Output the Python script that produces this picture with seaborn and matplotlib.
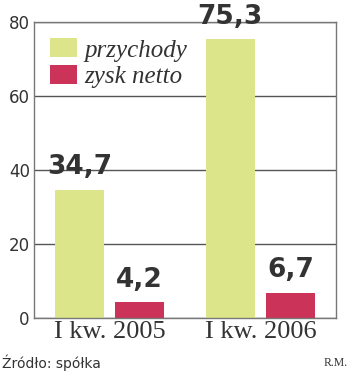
import matplotlib
matplotlib.use("Agg")
import matplotlib.pyplot as plt
import seaborn as sns
import pandas as pd

categories = ["I kw. 2005", "I kw. 2006"]
series = ["przychody", "zysk netto"]
przychody = [34.7, 75.3]
zysk_netto = [4.2, 6.7]
value_labels = [["34,7", "75,3"], ["4,2", "6,7"]]
yticks = [0, 20, 40, 60, 80]

colors = ["#dde58b", "#cc3358"]

df = pd.DataFrame({
    "kategoria": categories * 2,
    "seria": [series[0]] * 2 + [series[1]] * 2,
    "wartosc": przychody + zysk_netto,
})

sns.set_theme(style="white")
plt.rcParams['font.family'] = ['DejaVu Sans']

fig = plt.figure(figsize=(3.5, 3.73), dpi=100)
ax = fig.add_axes([34/350, 1-318/373, (336-34)/350, (318-22)/373])

sns.barplot(data=df, x="kategoria", y="wartosc", hue="seria", order=categories,
            hue_order=series, palette=colors, width=0.8, gap=0.19,
            saturation=1, ax=ax, legend=True, linewidth=0)

ax.set_xlim(-0.5, 1.5)
ax.set_ylim(0, 80)
ax.set_yticks(yticks)
ax.set_yticklabels([str(t) for t in yticks], fontsize=12, color="#333333")
ax.set_xlabel("")
ax.set_ylabel("")
ax.set_xticks(range(len(categories)))
ax.set_xticklabels(categories, fontsize=19, color="#333333",
                   family="Liberation Serif")
ax.tick_params(axis="both", length=0, pad=3)
ax.tick_params(axis="x", pad=2)

ax.set_axisbelow(True)
ax.yaxis.grid(True, color="#555555", linewidth=1.0)
for s in ax.spines.values():
    s.set_color("#777777")
    s.set_linewidth(1.0)

for container, labels in zip(ax.containers, value_labels):
    ax.bar_label(container, labels=labels, padding=7, fontsize=19,
                 fontweight="bold", color="#333333")

leg = ax.legend(loc="upper left", bbox_to_anchor=(0.0, 1.0), frameon=False,
                prop={"family": "Liberation Serif", "style": "italic", "size": 18},
                handlelength=1.05, handleheight=0.8, labelspacing=0.12,
                handletextpad=0.3, borderaxespad=0.45, borderpad=0.2)
for t in leg.get_texts():
    t.set_color("#333333")

fig.text(2/350, 1-363/373, "Źródło: spółka", fontsize=10, color="#333333",
         va="center", ha="left")
fig.text(348/350, 1-363/373, "R.M.", fontsize=8.5, color="#333333",
         va="center", ha="right", family="Liberation Serif")

fig.savefig("out.png", dpi=100, facecolor="white")
